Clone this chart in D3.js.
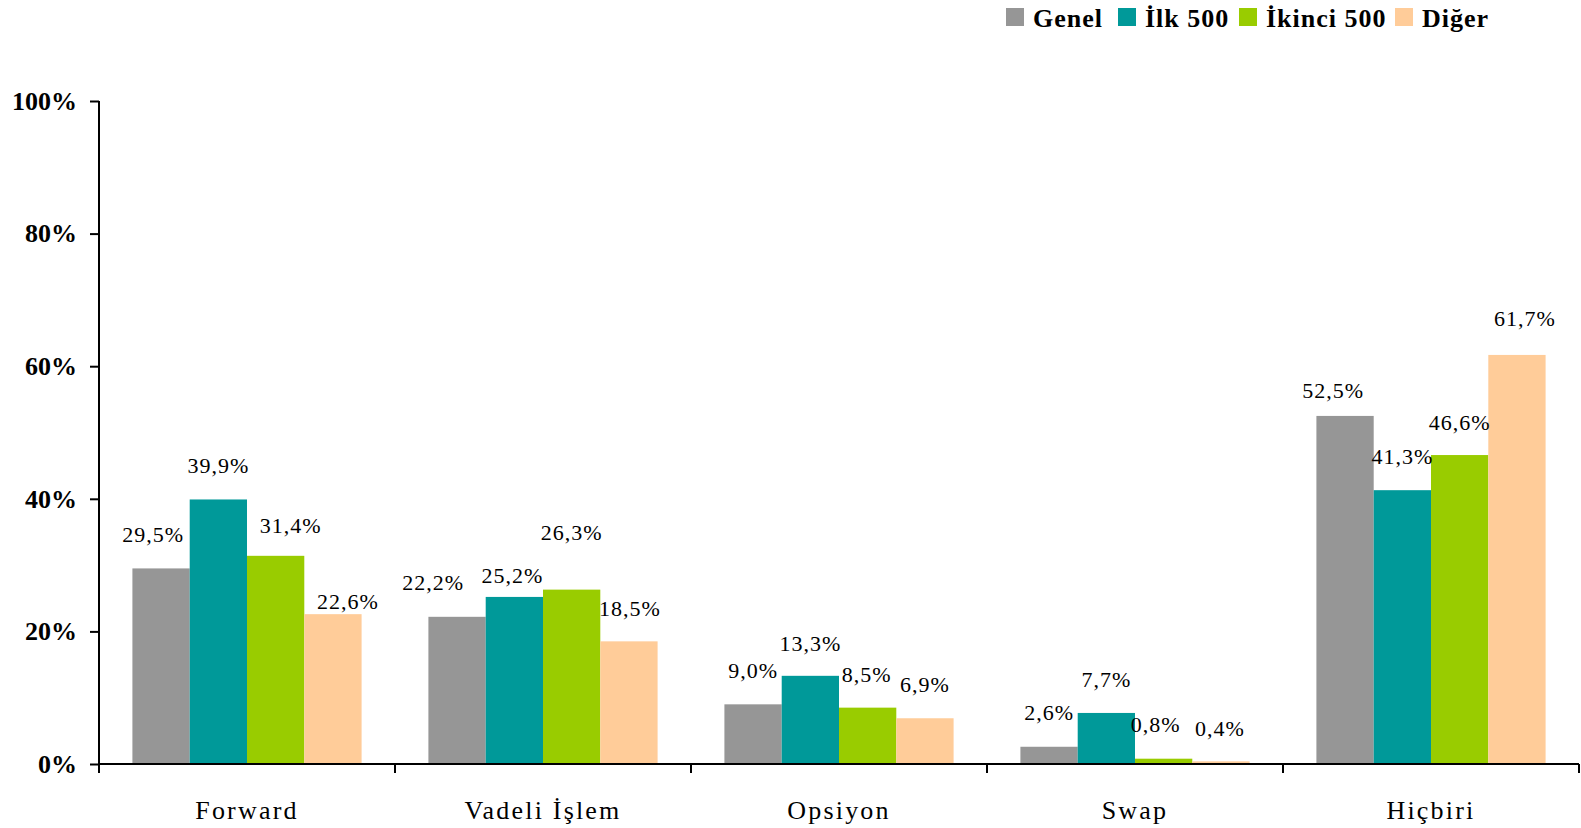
<!DOCTYPE html>
<html>
<head>
<meta charset="utf-8">
<script src="https://d3js.org/d3.v7.min.js"></script>
<style>
  body { margin: 0; background: #fff; }
  text { font-family: "Palatino Linotype", "Book Antiqua", Palatino, "Liberation Serif", serif; fill: #000; }
</style>
</head>
<body>
<script>
// Chart data.
const categories = ["Forward", "Vadeli İşlem", "Opsiyon", "Swap", "Hiçbiri"];
const seriesNames = ["Genel", "İlk 500", "İkinci 500", "Diğer"];
const seriesColors = ["#969696", "#009999", "#99cc00", "#ffcc99"];
const genel = [29.5, 22.2, 9.0, 2.6, 52.5];
const ilk500 = [39.9, 25.2, 13.3, 7.7, 41.3];
const ikinci500 = [31.4, 26.3, 8.5, 0.8, 46.6];
const diger = [22.6, 18.5, 6.9, 0.4, 61.7];
const yTicks = [0, 20, 40, 60, 80, 100];

// Label nudges [dx, dy] copied from the original placement of each value label.
const labelNudge = [
  [[-8, -34], [0, -34], [15, -31], [15, -13]],
  [[-24, -35], [-2, -22], [0, -57], [1, -33]],
  [[0, -34], [0, -33], [-1, -33], [0, -34]],
  [[0, -34], [0, -34], [-8, -34], [-1, -33]],
  [[-12, -26], [0, -34], [0, -33], [8, -37]]
];

const seriesValues = [genel, ilk500, ikinci500, diger];

const width = 1581, height = 828;
const plotLeft = 99, plotRight = 1579, plotTop = 101, plotBottom = 764;

let svg = d3.select("body").append("svg")
    .attr("width", width)
    .attr("height", height);

let x0 = d3.scaleBand().domain(categories).range([plotLeft, plotRight]).padding(0);
let x1 = d3.scaleBand().domain(seriesNames).range([0, x0.bandwidth()])
    .paddingInner(0).paddingOuter(0.583);
let y = d3.scaleLinear().domain([0, 100]).range([plotBottom, plotTop]);

// Bars.
let groups = svg.append("g").selectAll("g")
    .data(categories)
    .join("g")
    .attr("transform", d => `translate(${x0(d)},0)`);

groups.selectAll("rect")
    .data((c, ci) => seriesNames.map((s, si) => ({ s, si, ci, v: seriesValues[si][ci] })))
    .join("rect")
    .attr("x", d => x1(d.s))
    .attr("y", d => y(d.v))
    .attr("width", x1.bandwidth())
    .attr("height", d => plotBottom - y(d.v))
    .attr("fill", d => seriesColors[d.si]);

// Value labels.
groups.selectAll("text")
    .data((c, ci) => seriesNames.map((s, si) => ({ s, si, ci, v: seriesValues[si][ci] })))
    .join("text")
    .attr("x", d => x1(d.s) + x1.bandwidth() / 2 + labelNudge[d.ci][d.si][0])
    .attr("y", d => y(d.v) + labelNudge[d.ci][d.si][1])
    .attr("dy", "0.35em")
    .attr("text-anchor", "middle")
    .style("font-size", "22px")
    .style("letter-spacing", "1px")
    .text(d => d.v.toFixed(1).replace(".", ",") + "%");

// Y axis.
let yAxis = svg.append("g")
    .attr("transform", `translate(${plotLeft},0)`)
    .call(d3.axisLeft(y).tickValues(yTicks).tickSize(9).tickPadding(13)
        .tickFormat(d => d + "%"));
yAxis.select(".domain").attr("d", `M0,${plotTop}V${plotBottom}`).attr("stroke", "#000").attr("stroke-width", 2);
yAxis.selectAll(".tick line").attr("stroke", "#000").attr("stroke-width", 2);
yAxis.selectAll(".tick text")
    .style("font-size", "26px")
    .style("font-weight", "bold")
    .style("font-family", "\"Palatino Linotype\", \"Book Antiqua\", Palatino, \"Liberation Serif\", serif");

// X axis: ticks sit between categories.
let xAxis = svg.append("g").attr("transform", `translate(0,${plotBottom})`);
xAxis.append("line")
    .attr("x1", plotLeft).attr("x2", plotRight)
    .attr("stroke", "#000").attr("stroke-width", 2);
xAxis.selectAll(".sep")
    .data(categories.concat(["end"]))
    .join("line")
    .attr("class", "sep")
    .attr("x1", (d, i) => plotLeft + i * x0.step())
    .attr("x2", (d, i) => plotLeft + i * x0.step())
    .attr("y1", 0).attr("y2", 9)
    .attr("stroke", "#000").attr("stroke-width", 2);
xAxis.selectAll(".cat")
    .data(categories)
    .join("text")
    .attr("class", "cat")
    .attr("x", d => x0(d) + x0.bandwidth() / 2)
    .attr("y", 55)
    .attr("text-anchor", "middle")
    .style("font-size", "26px")
    .style("letter-spacing", "2.2px")
    .text(d => d);

// Legend.
const legendX = [1006, 1118, 1239, 1395];
let legend = svg.append("g").selectAll("g")
    .data(seriesNames)
    .join("g")
    .attr("transform", (d, i) => `translate(${legendX[i]},8)`);
legend.append("rect")
    .attr("width", 18).attr("height", 18)
    .attr("fill", (d, i) => seriesColors[i]);
legend.append("text")
    .attr("x", 27).attr("y", 19)
    .style("font-size", "26px")
    .style("font-weight", "bold")
    .style("letter-spacing", "1px")
    .text(d => d);
</script>
</body>
</html>
